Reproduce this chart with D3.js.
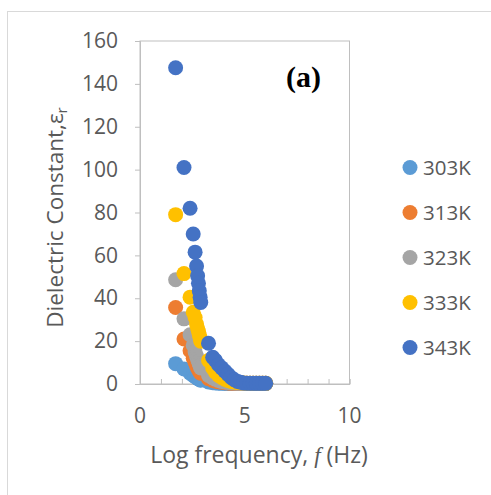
<!DOCTYPE html>
<html>
<head>
<meta charset="utf-8">
<script src="https://cdn.jsdelivr.net/npm/d3@7"></script>
<style>
  body { margin: 0; background: #fff; }
  svg text { font-family: "Open Sans", "Liberation Sans", sans-serif; fill: #595959; }
</style>
</head>
<body>
<svg class="chart"></svg>
<script>
const size = { w: 491, h: 495 };

// plot area box (pixels)
const plot = { left: 140, right: 349.5, top: 41, bottom: 384 };

// log frequency values shared by all temperatures
const logFreq = [1.70, 2.10, 2.39, 2.54, 2.63, 2.70, 2.75, 2.79, 2.83, 2.87, 2.90,
	3.27, 3.47, 3.60, 3.75, 3.90, 4.05, 4.20, 4.35, 4.50, 4.65, 4.80, 4.95,
	5.10, 5.25, 5.40, 5.55, 5.70, 5.85, 6.00];

// dielectric constant for each temperature
const eps303 = [9.5, 7.0, 5.0, 4.0, 3.4, 3.0, 2.7, 2.4, 2.2, 2.0, 1.8,
	0.9, 0.6, 0.45, 0.35, 0.3, 0.25, 0.2, 0.2, 0.2, 0.2, 0.2, 0.2,
	0.2, 0.2, 0.2, 0.2, 0.2, 0.2, 0.2];
const eps313 = [35.7, 21.0, 15.5, 12.0, 10.0, 8.5, 7.5, 6.8, 6.0, 5.4, 5.0,
	2.5, 1.7, 1.3, 1.0, 0.8, 0.6, 0.5, 0.4, 0.35, 0.3, 0.3, 0.3,
	0.3, 0.3, 0.3, 0.3, 0.3, 0.3, 0.3];
const eps323 = [48.6, 30.4, 23.0, 18.0, 15.0, 13.0, 11.5, 10.5, 9.5, 8.5, 7.5,
	4.0, 2.8, 2.2, 1.6, 1.2, 0.9, 0.7, 0.55, 0.45, 0.4, 0.35, 0.3,
	0.3, 0.3, 0.3, 0.3, 0.3, 0.3, 0.3];
const eps333 = [79.0, 51.5, 40.5, 33.5, 31.0, 28.0, 26.0, 24.5, 23.0, 21.5, 20.0,
	11.0, 7.5, 5.5, 4.0, 3.0, 2.2, 1.6, 1.2, 0.9, 0.7, 0.6, 0.5,
	0.4, 0.35, 0.3, 0.3, 0.3, 0.3, 0.3];
const eps343 = [147.5, 101.0, 82.0, 70.0, 61.5, 55.0, 50.5, 47.0, 43.5, 40.5, 38.0,
	19.0, 12.5, 11.0, 9.0, 7.5, 6.0, 4.5, 3.0, 2.0, 1.2, 0.8, 0.5,
	0.4, 0.35, 0.3, 0.3, 0.3, 0.3, 0.3];

const seriesNames = ["303K", "313K", "323K", "333K", "343K"];
const seriesColors = ["#5B9BD5", "#ED7D31", "#A5A5A5", "#FFC000", "#4472C4"];
const seriesValues = [eps303, eps313, eps323, eps333, eps343];

const xTicks = [0, 5, 10];
const xMinorTicks = d3.range(0, 11);
const yTicks = [0, 20, 40, 60, 80, 100, 120, 140, 160];

const svg = d3.select("svg.chart").attr("width", size.w).attr("height", size.h);

// chart area border
svg.append("rect")
	.attr("x", 7.5).attr("y", 11.5)
	.attr("width", size.w).attr("height", size.h)
	.attr("fill", "none").attr("stroke", "#d9d9d9");

const xScale = d3.scaleLinear().domain([0, 10]).range([plot.left, plot.right]);
const yScale = d3.scaleLinear().domain([0, 160]).range([plot.bottom, plot.top]);

// plot area border
svg.append("rect")
	.attr("x", plot.left).attr("y", plot.top)
	.attr("width", plot.right - plot.left).attr("height", plot.bottom - plot.top)
	.attr("fill", "none").attr("stroke", "#bfbfbf");

// y axis
const yAxis = svg.append("g")
	.attr("transform", `translate(${plot.left},0)`)
	.call(d3.axisLeft(yScale).tickValues(yTicks).tickSize(5).tickPadding(17));
yAxis.select(".domain").attr("stroke", "#bfbfbf");
yAxis.selectAll(".tick line").attr("stroke", "#bfbfbf");
yAxis.selectAll(".tick text")
	.attr("font-size", 21).attr("fill", "#595959")
	.attr("font-family", "'Open Sans', sans-serif");

// x axis, ticks pointing inward
const xAxis = svg.append("g")
	.attr("transform", `translate(0,${plot.bottom})`)
	.call(d3.axisBottom(xScale).tickValues(xMinorTicks).tickSize(-5).tickFormat(""));
xAxis.select(".domain").attr("stroke", "#bfbfbf");
xAxis.selectAll(".tick line").attr("stroke", "#bfbfbf");

svg.append("g")
	.selectAll("text")
	.data(xTicks)
	.join("text")
	.attr("x", (d) => xScale(d))
	.attr("y", 423)
	.attr("text-anchor", "middle")
	.attr("font-size", 21)
	.text((d) => d);

// points
seriesValues.forEach((vals, si) => {
	svg.append("g")
		.selectAll("circle")
		.data(logFreq.map((f, i) => [f, vals[i]]))
		.join("circle")
		.attr("cx", (d) => xScale(d[0]))
		.attr("cy", (d) => yScale(d[1]))
		.attr("r", 7.5)
		.attr("fill", seriesColors[si]);
});

// axis titles
const yTitle = svg.append("text")
	.attr("transform", `translate(63,${(plot.top + plot.bottom) / 2 + 5}) rotate(-90)`)
	.attr("text-anchor", "middle")
	.attr("font-size", 22.5);
yTitle.append("tspan").text("Dielectric Constant,ε");
yTitle.append("tspan").attr("font-size", 15).attr("dy", 4).text("r");

const xTitle = svg.append("text")
	.attr("x", 259)
	.attr("y", 463)
	.attr("text-anchor", "middle")
	.attr("font-size", 23);
xTitle.append("tspan").text("Log frequency, ");
xTitle.append("tspan").attr("font-style", "italic")
	.attr("font-family", "'Liberation Serif', serif").text("f");
xTitle.append("tspan").text(" (Hz)");

// panel label
svg.append("text")
	.attr("x", 286)
	.attr("y", 87)
	.attr("font-size", 30)
	.attr("font-weight", "bold")
	.style("font-family", "'Liberation Serif', serif")
	.style("fill", "#000")
	.text("(a)");

// legend
const legend = svg.append("g");
seriesNames.forEach((name, i) => {
	const ly = 167.5 + i * 45;
	legend.append("circle")
		.attr("cx", 410).attr("cy", ly).attr("r", 7.5)
		.attr("fill", seriesColors[i]);
	legend.append("text")
		.attr("x", 423).attr("y", ly + 7.5)
		.attr("font-size", 20.5)
		.text(name);
});
</script>
</body>
</html>
